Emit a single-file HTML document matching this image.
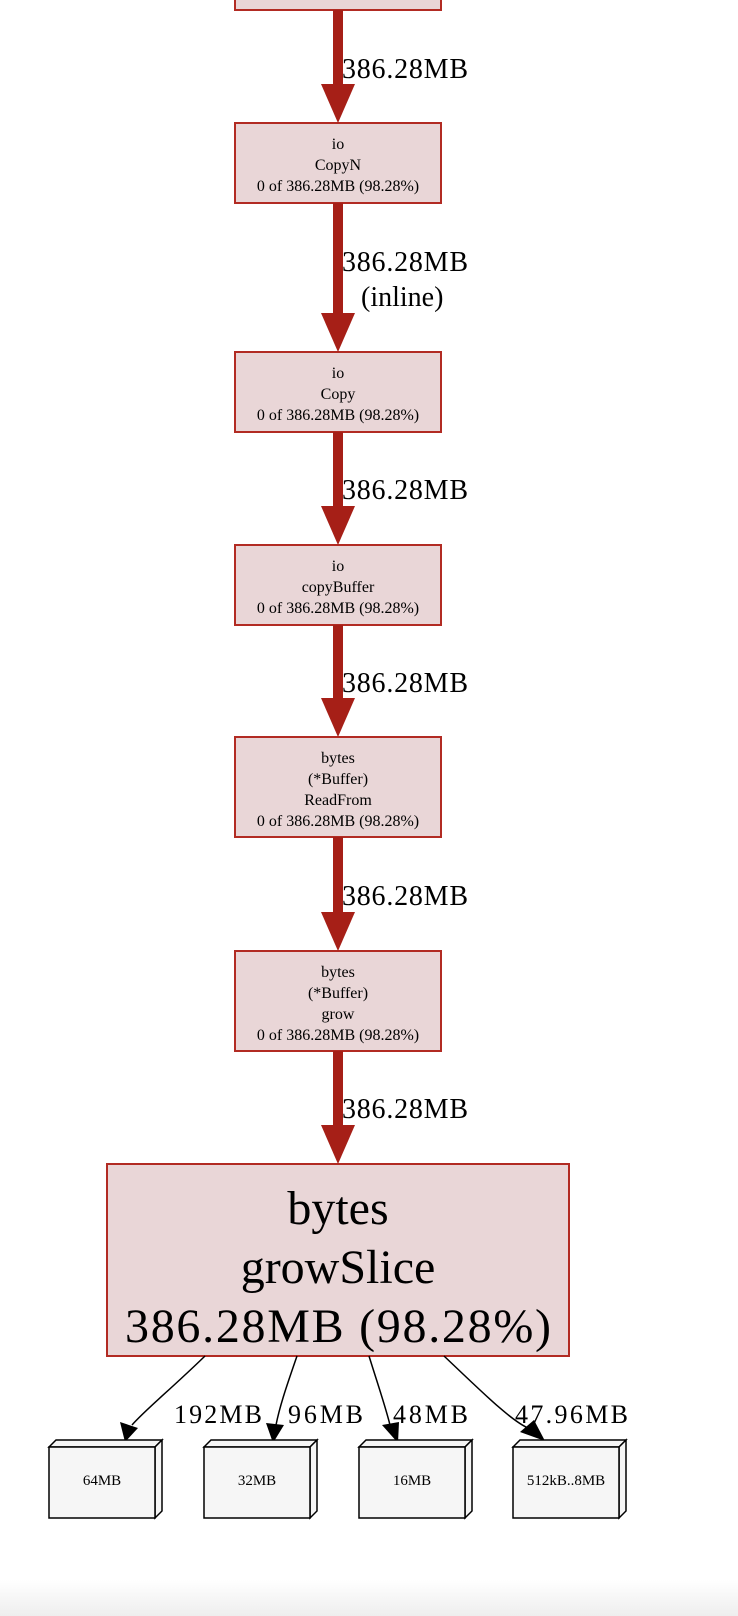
<!DOCTYPE html>
<html><head><meta charset="utf-8"><style>
html,body{margin:0;padding:0;background:#fff;width:738px;height:1616px;overflow:hidden}
svg{display:block}
text{font-family:"Liberation Serif",serif;fill:#000}
</style></head><body>
<svg width="738" height="1616" viewBox="0 0 738 1616">
<defs><linearGradient id="bg" x1="0" y1="0" x2="0" y2="1"><stop offset="0" stop-color="#fff"/><stop offset="1" stop-color="#eee"/></linearGradient></defs>
<rect x="0" y="1580" width="738" height="36" fill="url(#bg)"/>
<g fill="#e9d6d7" stroke="#b22b23" stroke-width="2">
<rect x="235" y="-5" width="206" height="15"/>
<rect x="235" y="123" width="206" height="80"/>
<rect x="235" y="352" width="206" height="80"/>
<rect x="235" y="545" width="206" height="80"/>
<rect x="235" y="737" width="206" height="100"/>
<rect x="235" y="951" width="206" height="100"/>
<rect x="107" y="1164" width="462" height="192"/>
</g>
<g fill="#a61f17" stroke="none">
<rect x="333" y="10" width="10" height="75"/><polygon points="321,84 355,84 338,123"/>
<rect x="333" y="203" width="10" height="111"/><polygon points="321,313 355,313 338,352"/>
<rect x="333" y="432" width="10" height="75"/><polygon points="321,506 355,506 338,545"/>
<rect x="333" y="625" width="10" height="74"/><polygon points="321,698 355,698 338,737"/>
<rect x="333" y="837" width="10" height="76"/><polygon points="321,912 355,912 338,951"/>
<rect x="333" y="1051" width="10" height="75"/><polygon points="321,1125 355,1125 338,1164"/>
</g>
<g font-size="28">
<text x="342" y="78" textLength="126">386.28MB</text>
<text x="342" y="271" textLength="126">386.28MB</text>
<text x="361" y="306">(inline)</text>
<text x="342" y="499" textLength="126">386.28MB</text>
<text x="342" y="692" textLength="126">386.28MB</text>
<text x="342" y="905" textLength="126">386.28MB</text>
<text x="342" y="1118" textLength="126">386.28MB</text>
</g>
<g font-size="16" text-anchor="middle">
<text x="338" y="149">io</text><text x="338" y="170">CopyN</text><text x="338" y="191">0 of 386.28MB (98.28%)</text>
<text x="338" y="378">io</text><text x="338" y="399">Copy</text><text x="338" y="420">0 of 386.28MB (98.28%)</text>
<text x="338" y="571">io</text><text x="338" y="592">copyBuffer</text><text x="338" y="613">0 of 386.28MB (98.28%)</text>
<text x="338" y="763">bytes</text><text x="338" y="784">(*Buffer)</text><text x="338" y="805">ReadFrom</text><text x="338" y="826">0 of 386.28MB (98.28%)</text>
<text x="338" y="977">bytes</text><text x="338" y="998">(*Buffer)</text><text x="338" y="1019">grow</text><text x="338" y="1040">0 of 386.28MB (98.28%)</text>
</g>
<g font-size="48" text-anchor="middle">
<text x="338" y="1224">bytes</text><text x="338" y="1283">growSlice</text><text x="338" y="1342" textLength="426">386.28MB (98.28%)</text>
</g>
<g fill="none" stroke="#000" stroke-width="1.5">
<path d="M205,1356 C170,1390 145,1410 132,1425"/>
<path d="M297,1356 C287,1385 280,1405 276,1425"/>
<path d="M369,1356 C378,1385 385,1405 390,1425"/>
<path d="M444,1356 C480,1390 510,1420 528,1428"/>
</g>
<g fill="#000">
<polygon points="120,1422 138,1428 125,1442"/>
<polygon points="266,1423 284,1425 273,1443"/>
<polygon points="382,1425 399,1422 398,1443"/>
<polygon points="520,1432 534,1420 545,1441"/>
</g>
<g font-size="26">
<text x="174" y="1423" textLength="88">192MB</text>
<text x="288" y="1423" textLength="75">96MB</text>
<text x="393" y="1423" textLength="75">48MB</text>
<text x="515" y="1423" textLength="113">47.96MB</text>
</g>
<g stroke="#000" stroke-width="1.5" fill="#f6f6f6">
<g transform="translate(49,1440)"><polygon points="0,7 7,0 113,0 106,7"/><polygon points="106,7 113,0 113,71 106,78"/><rect x="0" y="7" width="106" height="71"/></g>
<g transform="translate(204,1440)"><polygon points="0,7 7,0 113,0 106,7"/><polygon points="106,7 113,0 113,71 106,78"/><rect x="0" y="7" width="106" height="71"/></g>
<g transform="translate(359,1440)"><polygon points="0,7 7,0 113,0 106,7"/><polygon points="106,7 113,0 113,71 106,78"/><rect x="0" y="7" width="106" height="71"/></g>
<g transform="translate(513,1440)"><polygon points="0,7 7,0 113,0 106,7"/><polygon points="106,7 113,0 113,71 106,78"/><rect x="0" y="7" width="106" height="71"/></g>
</g>
<g font-size="15" text-anchor="middle">
<text x="102" y="1485">64MB</text>
<text x="257" y="1485">32MB</text>
<text x="412" y="1485">16MB</text>
<text x="566" y="1485">512kB..8MB</text>
</g>
</svg>
</body></html>
